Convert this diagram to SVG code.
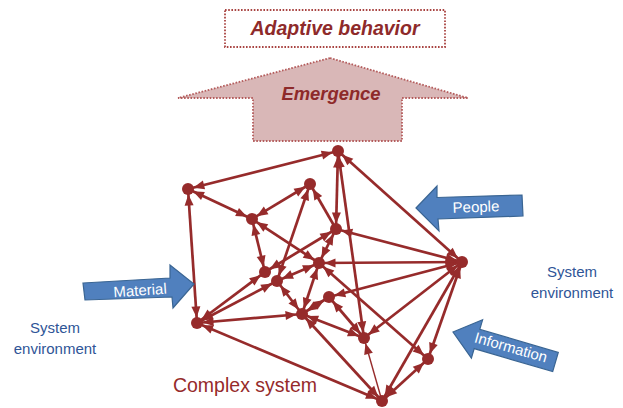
<svg xmlns="http://www.w3.org/2000/svg" width="623" height="408" viewBox="0 0 623 408">
  <style>
    .e { stroke: #962B2B; stroke-width: 2.7; fill: none; marker-start: url(#ah); marker-end: url(#ah); }
    .one { stroke: #962B2B; stroke-width: 2.7; fill: none; marker-end: url(#ah); }
    .thin { stroke: #962B2B; stroke-width: 1.4; fill: none; marker-end: url(#ah); }
    .node { fill: #962B2B; }
    .blue { fill: #5080BE; stroke: #3A6593; stroke-width: 1.2; }
    .lbl { font-family: "Liberation Sans", Arial, sans-serif; font-size: 15px; fill: #FFFFFF; text-anchor: middle; }
    .env { font-family: "Liberation Sans", Arial, sans-serif; font-size: 15px; fill: #2F5597; text-anchor: middle; }
    .title { font-family: "Liberation Sans", Arial, sans-serif; font-weight: bold; font-style: italic; fill: #8E2A2A; text-anchor: middle; }
  </style>
  <defs>
    <!-- arrowhead tip sits just before the line end so it touches the node circle -->
    <marker id="ah" markerUnits="userSpaceOnUse" markerWidth="20" markerHeight="10" refX="16.5" refY="4.5" orient="auto-start-reverse" overflow="visible">
      <path d="M0,0 L11,4.5 L0,9 Z" fill="#962B2B"/>
    </marker>
  </defs>

  <rect width="623" height="408" fill="#FFFFFF"/>

  <!-- top: adaptive behavior box and emergence arrow -->
  <g id="adaptive-behavior">
    <rect x="225" y="10" width="220" height="37" fill="#FFFFFF" stroke="#A94442" stroke-width="1.8" stroke-dasharray="1.6 1.6"/>
    <text class="title" x="335" y="35" font-size="19.5">Adaptive behavior</text>
  </g>
  <g id="emergence">
    <polygon points="330,58 468,98 402,98 402,141 253,141 253,98 178,98" fill="#D9B7B7" stroke="#B45C5C" stroke-width="1.8" stroke-dasharray="1.6 1.6"/>
    <text class="title" x="331" y="100" font-size="18.4">Emergence</text>
  </g>

  <!-- network connectors -->
  <g id="connectors">
    <line class="e" x1="338" y1="151" x2="188" y2="189"/>
    <line class="e" x1="188" y1="189" x2="197" y2="323"/>
    <line class="e" x1="188" y1="189" x2="252" y2="219"/>
    <line class="e" x1="310" y1="184" x2="252" y2="219"/>
    <line class="e" x1="277" y1="281" x2="310" y2="184"/>
    <line class="one" x1="336" y1="229" x2="310" y2="184"/>
    <line class="e" x1="252" y1="219" x2="265" y2="272"/>
    <line class="e" x1="252" y1="219" x2="319" y2="263"/>
    <line class="e" x1="336" y1="229" x2="338" y2="151"/>
    <line class="e" x1="338" y1="151" x2="364" y2="338"/>
    <line class="e" x1="338" y1="151" x2="462" y2="262"/>
    <line class="e" x1="336" y1="229" x2="462" y2="262"/>
    <line class="e" x1="319" y1="263" x2="462" y2="262"/>
    <line class="e" x1="336" y1="229" x2="319" y2="263"/>
    <line class="e" x1="336" y1="229" x2="265" y2="272"/>
    <line class="e" x1="319" y1="263" x2="277" y2="281"/>
    <line class="e" x1="319" y1="263" x2="302" y2="314"/>
    <line class="e" x1="319" y1="263" x2="428" y2="359"/>
    <line class="e" x1="462" y1="262" x2="329" y2="297"/>
    <line class="e" x1="329" y1="297" x2="302" y2="314"/>
    <line class="e" x1="329" y1="297" x2="364" y2="338"/>
    <line class="e" x1="302" y1="314" x2="364" y2="338"/>
    <line class="e" x1="302" y1="314" x2="382" y2="401"/>
    <line class="e" x1="197" y1="323" x2="382" y2="401"/>
    <line class="e" x1="197" y1="323" x2="302" y2="314"/>
    <line class="e" x1="197" y1="323" x2="265" y2="272"/>
    <line class="e" x1="197" y1="323" x2="277" y2="281"/>
    <line class="e" x1="277" y1="281" x2="302" y2="314"/>
    <line class="e" x1="462" y1="262" x2="364" y2="338"/>
    <line class="e" x1="462" y1="262" x2="428" y2="359"/>
    <line class="e" x1="462" y1="262" x2="382" y2="401"/>
    <line class="e" x1="428" y1="359" x2="382" y2="401"/>
    <line class="thin" x1="382" y1="401" x2="364" y2="338"/>
  </g>

  <!-- network nodes -->
  <g id="node-a"><circle class="node" cx="338" cy="151" r="6"/></g>
  <g id="node-b"><circle class="node" cx="188" cy="189" r="6"/></g>
  <g id="node-c"><circle class="node" cx="310" cy="184" r="6"/></g>
  <g id="node-d"><circle class="node" cx="252" cy="219" r="6"/></g>
  <g id="node-e"><circle class="node" cx="336" cy="229" r="6"/></g>
  <g id="node-f"><circle class="node" cx="319" cy="263" r="6"/></g>
  <g id="node-g"><circle class="node" cx="265" cy="272" r="6"/></g>
  <g id="node-h"><circle class="node" cx="277" cy="281" r="6"/></g>
  <g id="node-i"><circle class="node" cx="197" cy="323" r="6"/></g>
  <g id="node-j"><circle class="node" cx="302" cy="314" r="6"/></g>
  <g id="node-k"><circle class="node" cx="329" cy="297" r="6"/></g>
  <g id="node-l"><circle class="node" cx="364" cy="338" r="6"/></g>
  <g id="node-m"><circle class="node" cx="428" cy="359" r="6"/></g>
  <g id="node-n"><circle class="node" cx="382" cy="401" r="6"/></g>
  <g id="node-o"><circle class="node" cx="462" cy="262" r="6"/></g>

  <!-- inputs from the environment -->
  <g id="input-people">
    <polygon class="blue" points="416,208 437,186 437,197.5 522,195 523,216 438,219 439,231"/>
    <text class="lbl" transform="translate(476,207) rotate(-2)" y="5">People</text>
  </g>
  <g id="input-material">
    <polygon class="blue" points="83,283 170,278 170,265 194,284 173,308 172,297 85,300"/>
    <text class="lbl" transform="translate(140,290) rotate(-4)" y="5.5" font-size="15.5">Material</text>
  </g>
  <g id="input-information">
    <polygon class="blue" points="453,332 482.6,319.8 479.8,329.4 558.3,352.4 552.7,371.6 474.2,348.6 471.4,358.2"/>
    <text class="lbl" transform="translate(511,347) rotate(16)" y="5.5" font-size="15.5">Information</text>
  </g>

  <!-- labels -->
  <g id="label-env-right">
    <text class="env" x="572" y="277">System</text>
    <text class="env" x="572" y="298">environment</text>
  </g>
  <g id="label-env-left">
    <text class="env" x="55" y="333">System</text>
    <text class="env" x="55" y="354">environment</text>
  </g>
  <g id="label-system">
    <text x="245" y="392" font-family="'Liberation Sans', Arial, sans-serif" font-size="19.5" fill="#962B2B" text-anchor="middle">Complex system</text>
  </g>
</svg>
